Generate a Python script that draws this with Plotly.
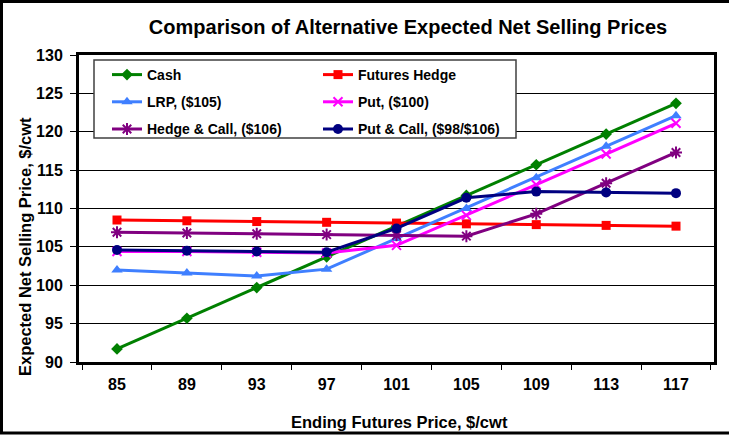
import plotly.graph_objects as go

futures_price = ["85", "89", "93", "97", "101", "105", "109", "113", "117"]
cash = [91.7, 95.7, 99.7, 103.7, 107.7, 111.7, 115.7, 119.7, 123.7]
futures_hedge = [108.5, 108.4, 108.3, 108.2, 108.1, 108.0, 107.9, 107.8, 107.7]
lrp_105 = [102.0, 101.6, 101.2, 102.1, 106.1, 110.0, 114.0, 118.1, 122.1]
put_100 = [104.4, 104.4, 104.3, 104.2, 105.2, 109.1, 113.1, 117.1, 121.1]
hedge_call_106 = [106.9, 106.8, 106.7, 106.6, 106.5, 106.4, 109.3, 113.3, 117.3]
put_call_98_106 = [104.6, 104.5, 104.4, 104.3, 107.4, 111.4, 112.2, 112.1, 112.0]

FONT = "Arial, 'Liberation Sans', sans-serif"
W, H = 729, 435
L, R, T, B = 79, 15, 55, 73
PW, PH = W - L - R, H - T - B


def px(xp):
    return (xp - L) / PW


def py(yp):
    return (H - B - yp) / PH


series = [
    ("Cash", cash, "#008000", dict(symbol="diamond", size=9), "legend"),
    ("Futures Hedge", futures_hedge, "#FF0000", dict(symbol="square", size=9), "legend2"),
    ("LRP, ($105)", lrp_105, "#3F7FFF", dict(symbol="triangle-up", size=10), "legend"),
    ("Put, ($100)", put_100, "#FF00FF",
     dict(symbol="x-thin-open", size=9, line=dict(width=2, color="#FF00FF")), "legend2"),
    ("Hedge & Call, ($106)", hedge_call_106, "#800080",
     dict(symbol="asterisk-open", size=10, line=dict(width=2, color="#800080")), "legend"),
    ("Put & Call, ($98/$106)", put_call_98_106, "#000080", dict(symbol="circle", size=10), "legend2"),
]

fig = go.Figure()
for i, (name, vals, color, marker, leg) in enumerate(series):
    m = dict(color=color)
    m.update(marker)
    fig.add_trace(go.Scatter(
        x=futures_price, y=vals, name=name, mode="lines+markers",
        line=dict(color=color, width=3), marker=m,
        legend=leg, legendgroup="g%d" % i,
    ))

legend_common = dict(
    font=dict(family=FONT, size=14, color="black", weight="bold"),
    bgcolor="rgba(0,0,0,0)", borderwidth=0, orientation="v",
    tracegroupgap=6, xanchor="left", yanchor="top",
)

fig.update_layout(
    width=W, height=H,
    margin=dict(l=L, r=R, t=T, b=B),
    paper_bgcolor="white", plot_bgcolor="white",
    font=dict(family=FONT, color="black"),
    showlegend=True,
    legend=dict(x=px(107), y=py(59), **legend_common),
    legend2=dict(x=px(318), y=py(59), **legend_common),
    title=dict(
        text="Comparison of Alternative Expected Net Selling Prices",
        font=dict(family=FONT, size=20, color="black", weight="bold"),
        x=408 / W, xanchor="center", xref="container",
        y=1 - 27 / H, yanchor="middle", yref="container",
    ),
    xaxis=dict(
        type="category", tickson="boundaries", ticks="outside", ticklen=5,
        tickcolor="black", tickwidth=1,
        showline=True, linecolor="black", linewidth=3, mirror=True,
        showgrid=False, zeroline=False, ticklabelstandoff=6,
        tickfont=dict(family=FONT, size=16, color="black", weight="bold"),
    ),
    yaxis=dict(
        range=[90, 130], dtick=5, ticks="outside", ticklen=6,
        tickcolor="black", tickwidth=1,
        showline=True, linecolor="black", linewidth=3, mirror=True,
        showgrid=True, gridcolor="black", gridwidth=1, zeroline=False,
        ticklabelstandoff=4,
        tickfont=dict(family=FONT, size=16, color="black", weight="bold"),
    ),
    shapes=[
        dict(type="rect", xref="paper", yref="paper",
             x0=px(94), x1=px(516), y0=py(138), y1=py(60),
             fillcolor="white", line=dict(color="#404040", width=1.5), layer="above"),
        dict(type="rect", xref="paper", yref="paper",
             x0=px(1.5), x1=px(740), y0=py(433), y1=py(1.5),
             fillcolor="rgba(0,0,0,0)", line=dict(color="black", width=3), layer="above"),
    ],
    annotations=[
        dict(text="Ending Futures Price, $/cwt", xref="paper", yref="paper",
             x=px(399), y=py(422), xanchor="center", yanchor="middle", showarrow=False,
             font=dict(family=FONT, size=16.5, color="black", weight="bold")),
        dict(text="Expected Net Selling Price, $/cwt", xref="paper", yref="paper",
             x=px(25), y=py(247), xanchor="center", yanchor="middle", showarrow=False,
             textangle=-90,
             font=dict(family=FONT, size=16.5, color="black", weight="bold")),
    ],
)

fig.write_html("out.html")
